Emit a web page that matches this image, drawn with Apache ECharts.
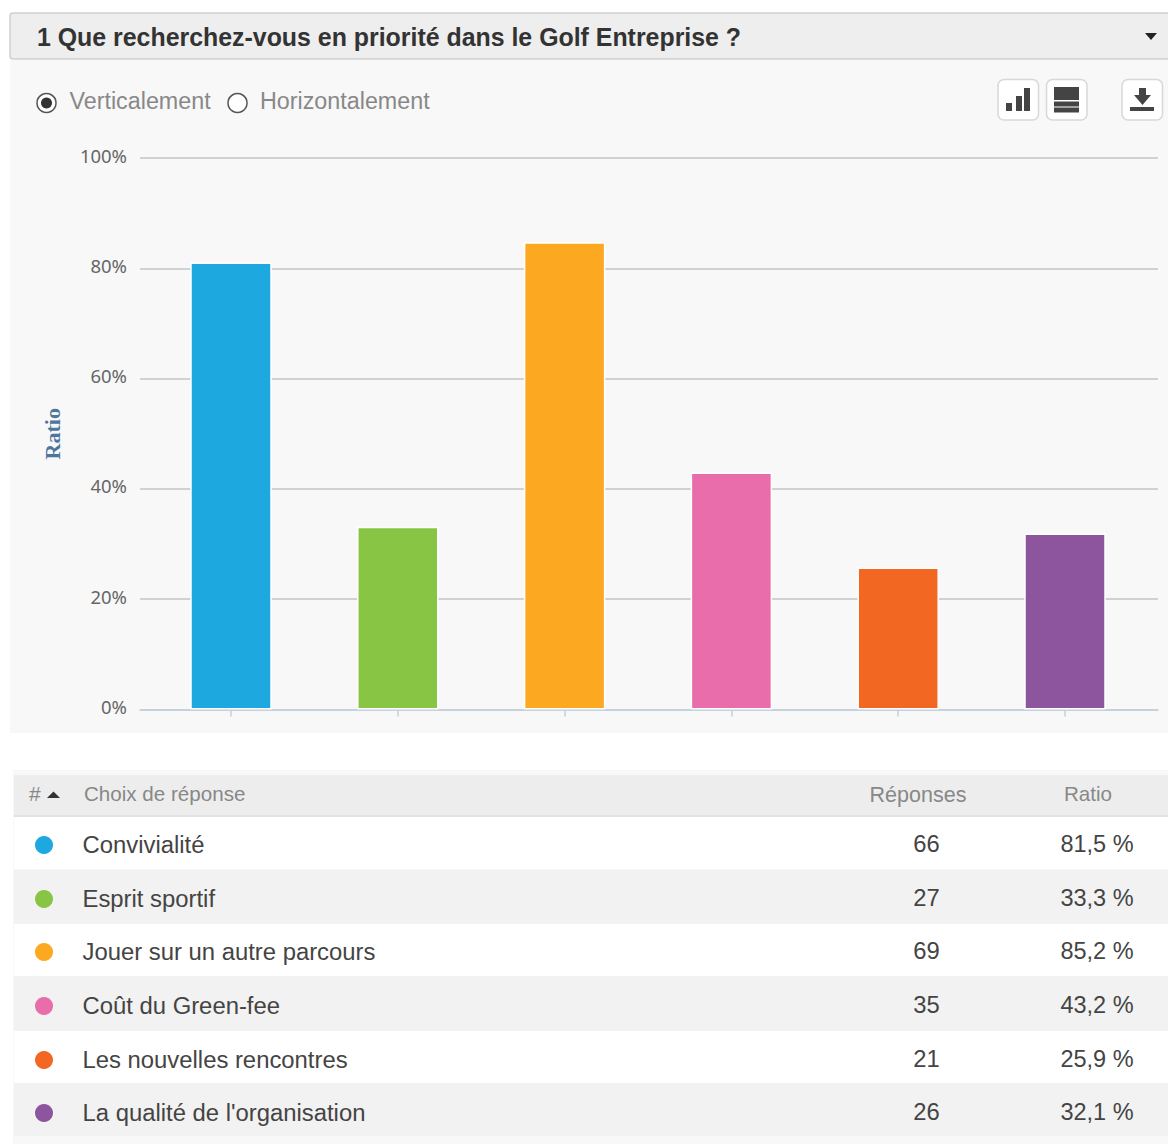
<!DOCTYPE html>
<html><head><meta charset="utf-8">
<style>html,body{margin:0;padding:0;background:#fff}#c{width:1168px;height:1144px}</style>
<script src="https://cdn.jsdelivr.net/npm/echarts@6/dist/echarts.min.js"></script>
</head><body><div id="c"></div>
<script>
const questionTitle = "1 Que recherchez-vous en priorité dans le Golf Entreprise ?";
const categories = ["Convivialité","Esprit sportif","Jouer sur un autre parcours","Coût du Green-fee","Les nouvelles rencontres","La qualité de l'organisation"];
const responses = [66,27,69,35,21,26];
const ratios = [81.5,33.3,85.2,43.2,25.9,32.1];
const ratioLabels = ["81,5 %","33,3 %","85,2 %","43,2 %","25,9 %","32,1 %"];
const colors = ["#1ea8e0","#89c545","#fda821","#e86daa","#f26722","#8e559f"];
const yTicks = [0,20,40,60,80,100];

const SANS = '"Liberation Sans", Arial, sans-serif';
const rect = (x,y,w,h,fill,extra={}) => ({type:'rect',silent:true,z:-10,shape:{x,y,width:w,height:h,r:extra.r||0},style:{fill,stroke:extra.stroke||null,lineWidth:extra.lw||0}});
const text = (x,y,t,size,fill,align='left',weight='normal') => ({type:'text',silent:true,z:-5,x,y,style:{text:t,fontFamily:SANS,fontSize:size,fontWeight:weight,fill,align,verticalAlign:'middle'}});
const circle = (cx,cy,r,fill,stroke,lw) => ({type:'circle',silent:true,z:-5,shape:{cx,cy,r},style:{fill,stroke:stroke||null,lineWidth:lw||0}});
const poly = (points,fill) => ({type:'polygon',silent:true,z:-5,shape:{points},style:{fill}});

const dark = '#444';
const g = [];
// panel + title bar
g.push(rect(10,60,1158,673,'#f8f8f8'));
g.push(rect(10,13,1160,46,'#eeeeee',{r:3,stroke:'#cfcfcf',lw:1.5}));
g.push(text(37,37,questionTitle,24.9,'#333','left','bold'));
g.push(poly([[1145,33],[1157,33],[1151,40]],'#222'));
// orientation radios
g.push(circle(46.5,103,9.5,'#fff','#555',1.5));
g.push(circle(46.5,103,5.5,'#333'));
g.push(text(69.5,101,'Verticalement',23.3,'#888'));
g.push(circle(237.5,103,9.5,'#fff','#555',1.5));
g.push(text(260,101,'Horizontalement',23.3,'#888'));
// tool buttons
[998,1046.5,1122].forEach(x=>g.push(rect(x,79.5,40.5,40.5,'#fff',{r:6,stroke:'#d8d8d8',lw:1.5})));
[[1006,103,6,8],[1016,96,6,15],[1024,88,6,23]].forEach(b=>g.push(Object.assign(rect(...b,dark),{z:-5})));
[[1054,87,25,13],[1054,101.5,25,5],[1054,107.5,25,5]].forEach(b=>g.push(Object.assign(rect(...b,dark),{z:-5})));
g.push(Object.assign(rect(1139,88,7,7,dark),{z:-5}));
g.push(poly([[1134,95],[1151,95],[1142.5,105]],dark));
g.push(Object.assign(rect(1130,107,24,4,dark),{z:-5}));
// table
g.push(rect(13,770,1155,374,'#f8f8f8'));
g.push(rect(14,775,1154,41,'#ededed'));
g.push(rect(14,815,1154,2,'#e2e2e2'));
g.push(text(29,793.5,'#',21,'#888'));
g.push(poly([[47,798],[60,798],[53.5,791.5]],'#333'));
g.push(text(84,793.5,'Choix de réponse',20.6,'#888'));
g.push(text(918,795,'Réponses',21.5,'#888','center'));
g.push(text(1088,793.5,'Ratio',20.6,'#888','center'));
const rowEdges = [817,869.5,924,976,1031,1083,1136];
const rowMid = [845,899,952,1006,1060,1113];
categories.forEach((c,i)=>{
  g.push(rect(14,rowEdges[i],1154,rowEdges[i+1]-rowEdges[i],i%2?'#f2f2f2':'#fff'));
  g.push(circle(44,rowMid[i],9,colors[i]));
  g.push(text(82.5,rowMid[i]-1,c,23.85,dark));
  g.push(text(926.5,rowMid[i]-2,String(responses[i]),23.8,dark,'center'));
  g.push(text(1097,rowMid[i]-1,ratioLabels[i],23.5,dark,'center'));
});

const chart = echarts.init(document.getElementById('c'),null,{renderer:'svg'});
chart.setOption({
  animation:false,
  backgroundColor:'#fff',
  graphic:{elements:g},
  tooltip:{show:false},
  grid:[
    {left:140,top:158,width:1018,height:551.5,containLabel:false},
    {left:147.6,top:161,width:1000.8,height:548.5,containLabel:false}
  ],
  xAxis:[
    {gridIndex:0,type:'category',data:categories,axisLine:{lineStyle:{color:'#c0d0e0',width:1.5}},axisTick:{show:false},axisLabel:{show:false}},
    {gridIndex:1,type:'category',data:categories,axisLine:{show:false},axisTick:{show:true,alignWithLabel:true,interval:0,length:7,lineStyle:{color:'#c0d0e0',width:1.5}},axisLabel:{show:false},splitLine:{show:false}}
  ],
  yAxis:[
    {gridIndex:0,type:'value',min:yTicks[0],max:yTicks[yTicks.length-1],interval:yTicks[1]-yTicks[0],
     name:'Ratio',nameLocation:'middle',nameGap:77,nameRotate:90,
     nameTextStyle:{fontFamily:'"Liberation Serif",serif',fontWeight:'bold',fontSize:22,color:'#4d759e'},
     axisLine:{show:false},axisTick:{show:false},
     axisLabel:{margin:13,formatter:'{value}%',fontFamily:'"Noto Sans",sans-serif',fontSize:18.5,color:'#666',verticalAlign:'bottom',lineHeight:6},
     splitLine:{show:true,lineStyle:{color:'#c4c4c4',width:1.5}}},
    {gridIndex:1,type:'value',min:yTicks[0],max:yTicks[yTicks.length-1],show:false,splitLine:{show:false}}
  ],
  series:[{
    type:'bar',xAxisIndex:1,yAxisIndex:1,barWidth:81.5,
    data:ratios.map((v,i)=>({value:v,itemStyle:{color:colors[i]}})),
    itemStyle:{borderColor:'#ffffff',borderWidth:1.5},
    label:{show:false}
  }]
});
</script></body></html>
